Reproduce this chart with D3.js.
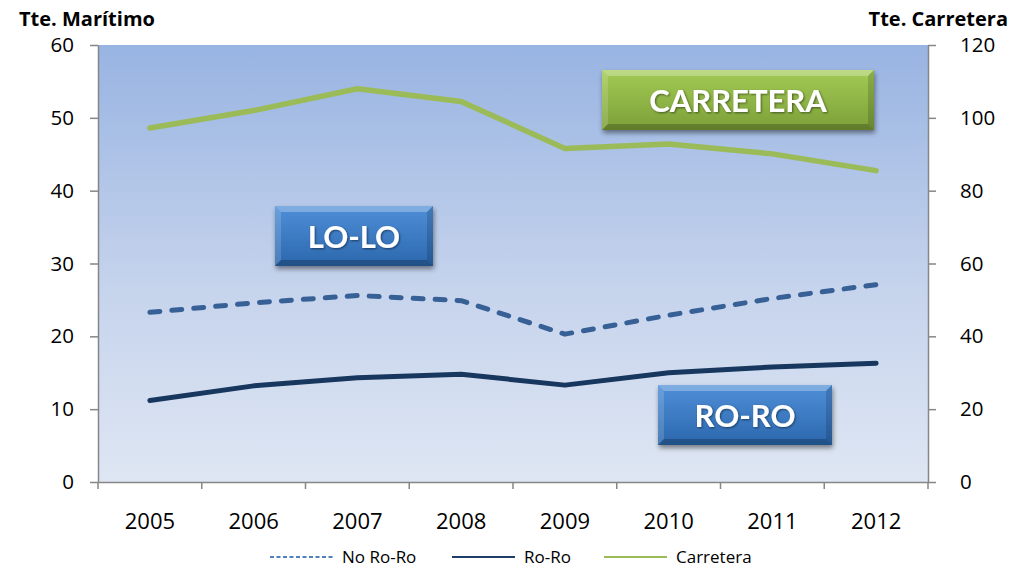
<!DOCTYPE html>
<html><head><meta charset="utf-8">
<script src="https://cdn.jsdelivr.net/npm/d3@7"></script>
<style>
html,body{margin:0;padding:0;background:#fff;}
svg{display:block;font-family:"Open Sans",Lato,sans-serif;}
</style></head>
<body>
<svg id="c" width="1011" height="567"></svg>
<script>
const years = ["2005","2006","2007","2008","2009","2010","2011","2012"];
const noRoRo = [23.3, 24.6, 25.6, 24.9, 20.3, 22.9, 25.2, 27.1];
const roRo = [11.2, 13.2, 14.3, 14.8, 13.3, 15.0, 15.8, 16.3];
const carretera = [97.2, 102.0, 108.0, 104.5, 91.6, 92.8, 90.1, 85.5];
const leftTicks = [0,10,20,30,40,50,60];
const rightTicks = [0,20,40,60,80,100,120];
const legendNames = ["No Ro-Ro","Ro-Ro","Carretera"];
const boxLabels = ["CARRETERA","LO-LO","RO-RO"];

const svg = d3.select("#c");
const L = 98, R = 928, T = 45, B = 482;
const x = d3.scaleBand().domain(years).range([L, R]).padding(0);
const yL = d3.scaleLinear().domain([0,60]).range([B, T]);
const yR = d3.scaleLinear().domain([0,120]).range([B, T]);

const defs = svg.append("defs");
const bg = defs.append("linearGradient").attr("id","bg").attr("x1",0).attr("y1",0).attr("x2",0).attr("y2",1);
bg.append("stop").attr("offset","0%").attr("stop-color","#98B4E2");
bg.append("stop").attr("offset","55%").attr("stop-color","#C5D3EC");
bg.append("stop").attr("offset","100%").attr("stop-color","#DEE6F3");
const gg = defs.append("linearGradient").attr("id","gGreen").attr("x1",0).attr("y1",0).attr("x2",0).attr("y2",1);
gg.append("stop").attr("offset","0%").attr("stop-color","#A3CB55");
gg.append("stop").attr("offset","100%").attr("stop-color","#7C9F38");
const gb = defs.append("linearGradient").attr("id","gBlue").attr("x1",0).attr("y1",0).attr("x2",0).attr("y2",1);
gb.append("stop").attr("offset","0%").attr("stop-color","#4F8FD8");
gb.append("stop").attr("offset","100%").attr("stop-color","#2B67AD");
const sh = defs.append("filter").attr("id","shadow").attr("x","-10%").attr("y","-20%").attr("width","130%").attr("height","160%");
sh.append("feDropShadow").attr("dx",1).attr("dy",3).attr("stdDeviation",2.5).attr("flood-color","#000").attr("flood-opacity",0.45);
const tsh = defs.append("filter").attr("id","tshadow").attr("x","-10%").attr("y","-20%").attr("width","130%").attr("height","160%");
tsh.append("feDropShadow").attr("dx",1).attr("dy",1).attr("stdDeviation",1).attr("flood-color","#000").attr("flood-opacity",0.5);

// plot background
svg.append("rect").attr("x",L).attr("y",T).attr("width",R-L).attr("height",B-T).attr("fill","url(#bg)");

const axisColor = "#868686";
const gl = svg.append("g").attr("transform",`translate(${L},0)`)
  .call(d3.axisLeft(yL).tickValues(leftTicks).tickSize(8).tickSizeOuter(0).tickPadding(16));
const gr = svg.append("g").attr("transform",`translate(${R},0)`)
  .call(d3.axisRight(yR).tickValues(rightTicks).tickSize(8).tickSizeOuter(0).tickPadding(24));
const gbm = svg.append("g").attr("transform",`translate(0,${B})`)
  .call(d3.axisBottom(x).tickSize(0).tickSizeOuter(0).tickPadding(31));
[gl,gr,gbm].forEach(g=>{
  g.select(".domain").attr("stroke",axisColor).attr("stroke-width",1.5);
  g.selectAll(".tick line").attr("stroke",axisColor).attr("stroke-width",1.5);
  g.selectAll("text").attr("fill","#000").style("font-size","20.5px").style("font-family","'Open Sans',sans-serif");
});
gbm.selectAll("text").style("font-size","22px");
const bounds = years.map(d=>x(d)).concat([x.range()[1]]);
svg.append("g").selectAll("line").data(bounds).join("line")
  .attr("x1",d=>d).attr("x2",d=>d).attr("y1",B).attr("y2",B+7)
  .attr("stroke",axisColor).attr("stroke-width",1.5);

svg.append("text").attr("x",19).attr("y",26).text("Tte. Marítimo")
  .style("font-size","20px").style("font-weight","bold").attr("fill","#000");
svg.append("text").attr("x",1008).attr("y",26).attr("text-anchor","end").text("Tte. Carretera")
  .style("font-size","20px").style("font-weight","bold").attr("fill","#000");

const cx = d => x(d) + x.bandwidth()/2;
const lineL = d3.line().x((d,i)=>cx(years[i])).y(d=>yL(d));
const lineR = d3.line().x((d,i)=>cx(years[i])).y(d=>yR(d));

const boxes = [
  {label: boxLabels[0], x0: 602, y0: 70, x1: 874, y1: 130, fill: "url(#gGreen)", size: 31},
  {label: boxLabels[1], x0: 275, y0: 206, x1: 433, y1: 266, fill: "url(#gBlue)", size: 31},
  {label: boxLabels[2], x0: 658, y0: 385, x1: 832, y1: 445, fill: "url(#gBlue)", size: 31}
];
boxes.forEach(b=>{
  const g = svg.append("g");
  const w = b.x1-b.x0, h = b.y1-b.y0, e = 6;
  g.append("rect").attr("x",b.x0).attr("y",b.y0).attr("width",w).attr("height",h)
    .attr("fill",b.fill).attr("filter","url(#shadow)");
  const P = (pts)=>pts.map(p=>p.join(",")).join(" ");
  g.append("polygon").attr("points",P([[b.x0,b.y0],[b.x1,b.y0],[b.x1-e,b.y0+e],[b.x0+e,b.y0+e]])).attr("fill","#fff").attr("opacity",0.28);
  g.append("polygon").attr("points",P([[b.x0,b.y0],[b.x0+e,b.y0+e],[b.x0+e,b.y1-e],[b.x0,b.y1]])).attr("fill","#fff").attr("opacity",0.15);
  g.append("polygon").attr("points",P([[b.x0,b.y1],[b.x0+e,b.y1-e],[b.x1-e,b.y1-e],[b.x1,b.y1]])).attr("fill","#000").attr("opacity",0.22);
  g.append("polygon").attr("points",P([[b.x1,b.y0],[b.x1,b.y1],[b.x1-e,b.y1-e],[b.x1-e,b.y0+e]])).attr("fill","#000").attr("opacity",0.15);
  g.append("text").attr("x",(b.x0+b.x1)/2).attr("y",(b.y0+b.y1)/2+12).attr("text-anchor","middle")
    .text(b.label).attr("fill","#fff").attr("filter","url(#tshadow)")
    .style("font-size",b.size+"px").style("font-weight","bold").style("font-family","Lato,'Open Sans',sans-serif");
});

svg.append("path").datum(carretera).attr("d",lineR).attr("fill","none")
  .attr("stroke","#9BBB59").attr("stroke-width",5.5).attr("stroke-linecap","round").attr("stroke-linejoin","round");
svg.append("path").datum(noRoRo).attr("d",lineL).attr("fill","none")
  .attr("stroke","#376196").attr("stroke-width",5).attr("stroke-dasharray","10,12")
  .attr("stroke-linecap","round").attr("stroke-linejoin","round");
svg.append("path").datum(roRo).attr("d",lineL).attr("fill","none")
  .attr("stroke","#17375E").attr("stroke-width",5).attr("stroke-linecap","round").attr("stroke-linejoin","round");

const leg = [
  {name: legendNames[0], color:"#4F81BD", dash:"4,2.5", x:270},
  {name: legendNames[1], color:"#1F3D6B", dash:null, x:452},
  {name: legendNames[2], color:"#9BBB59", dash:null, x:604}
];
const lg = svg.append("g");
leg.forEach(d=>{
  const ln = lg.append("line").attr("x1",d.x).attr("x2",d.x+63).attr("y1",557).attr("y2",557)
    .attr("stroke",d.color).attr("stroke-width",2);
  if (d.dash) ln.attr("stroke-dasharray",d.dash);
  lg.append("text").attr("x",d.x+72).attr("y",563).text(d.name)
    .style("font-size","17px").attr("fill","#000");
});
</script>
</body></html>
